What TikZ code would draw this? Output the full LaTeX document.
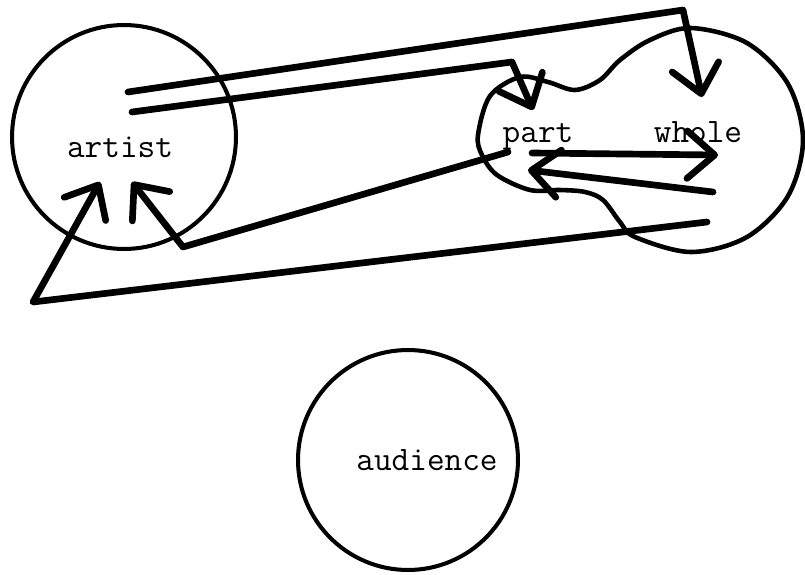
\documentclass[tikz,border=0pt]{standalone}
\usetikzlibrary{arrows.meta}
\begin{document}
\begin{tikzpicture}[x=0.02cm,y=-0.02cm,
  blob/.style={draw,circle,line width=2.3pt,minimum size=4.48cm,inner sep=0pt},
  word/.style={font=\ttfamily\fontsize{19.5}{22}\selectfont,anchor=base,inner sep=0pt},
  arr/.style={line width=3.8pt,line join=round,line cap=round,
    -{Straight Barb[length=5.5mm,width=9.5mm,line cap=round,line join=round]}}]
\useasboundingbox (0,0) rectangle (805,575);
\node[blob] (artistc) at (124,137) {};
\node[blob,minimum size=4.4cm] (audiencec) at (408,460) {};
\node[word] (artist) at (120,157) {artist};
\node[word] (part) at (538,142) {part};
\node[word] (whole) at (698,142) {whole};
\node[word] (audience) at (427,470) {audience};
% part and whole outline
\draw[line width=2.6pt,line join=round] plot[smooth cycle,tension=0.55] coordinates {
  (478,135) (490,96) (520,77) (548,82) (575,90) (600,80) (620,60) (650,40)
  (691,28) (747,43) (788,84) (803,140) (788,196) (747,237) (691,252) (635,237)
  (620,222) (603,200) (585,192) (560,190) (530,190) (497,175) (482,155)};
\coordinate (s1) at (128,92);  \coordinate (k1) at (683,10);  \coordinate (t1) at (702,97);
\coordinate (s2) at (132,112); \coordinate (k2) at (512,62);  \coordinate (t2) at (533,110);
\coordinate (s3) at (508,152); \coordinate (k3) at (183,247); \coordinate (t3) at (132,182);
\coordinate (s4) at (707,222); \coordinate (k4) at (33,302);  \coordinate (t4) at (100,182);
\coordinate (s5) at (532,153); \coordinate (t5) at (718,155);
\coordinate (s6) at (713,192); \coordinate (t6) at (528,170);
\foreach \u/\v/\w in {s1/k1/t1,s2/k2/t2,s3/k3/t3,s4/k4/t4}
  \draw[arr] (\u)--(\v)--(\w);
\foreach \u/\v in {s5/t5,s6/t6}
  \draw[arr] (\u)--(\v);
\end{tikzpicture}
\end{document}
